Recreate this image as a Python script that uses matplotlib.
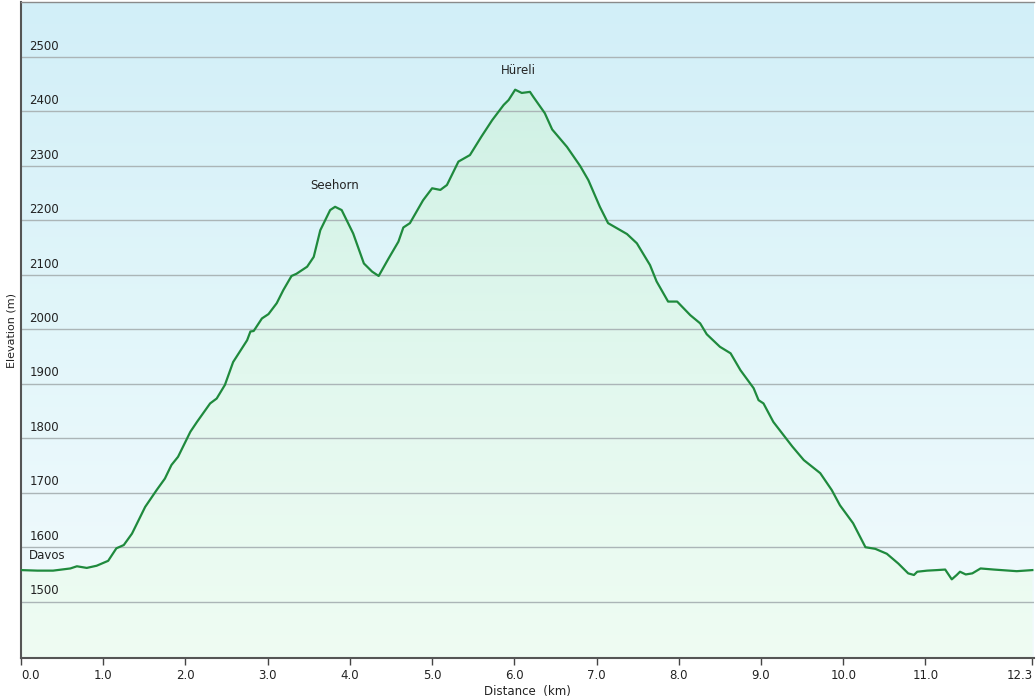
import numpy as np
import matplotlib
matplotlib.use("Agg")
import matplotlib.pyplot as plt
from matplotlib.colors import LinearSegmentedColormap

# elevation profile
distance_km = [0.00, 0.20, 0.39, 0.60, 0.68, 0.80, 0.92, 1.06, 1.16, 1.25,
               1.35, 1.51, 1.65, 1.75, 1.83, 1.91, 2.06, 2.14, 2.30, 2.38,
               2.48, 2.58, 2.75, 2.79, 2.83, 2.93, 3.01, 3.11, 3.19, 3.29,
               3.35, 3.48, 3.56, 3.64, 3.76, 3.82, 3.90, 4.04, 4.17, 4.27,
               4.35, 4.47, 4.59, 4.65, 4.73, 4.89, 5.00, 5.10, 5.18, 5.32,
               5.46, 5.60, 5.73, 5.87, 5.93, 6.01, 6.09, 6.19, 6.23, 6.37,
               6.46, 6.64, 6.80, 6.90, 7.04, 7.14, 7.37, 7.49, 7.65, 7.73,
               7.87, 7.98, 8.14, 8.26, 8.34, 8.50, 8.63, 8.75, 8.91, 8.97,
               9.03, 9.15, 9.38, 9.52, 9.72, 9.86, 9.96, 10.12, 10.27, 10.39,
               10.53, 10.67, 10.79, 10.86, 10.90, 11.02, 11.14, 11.24, 11.32, 11.38,
               11.42, 11.49, 11.57, 11.67, 11.83, 12.11, 12.30]
elevation_m = [1558, 1557, 1557, 1561, 1565, 1562, 1566, 1575, 1598, 1604,
               1625, 1674, 1705, 1726, 1751, 1766, 1812, 1830, 1864, 1873,
               1898, 1940, 1980, 1996, 1997, 2020, 2028, 2048, 2072, 2098,
               2102, 2115, 2133, 2182, 2219, 2225, 2219, 2176, 2121, 2106,
               2098, 2130, 2161, 2187, 2195, 2237, 2259, 2256, 2265, 2308,
               2320, 2354, 2384, 2412, 2421, 2440, 2434, 2436, 2427, 2397,
               2367, 2335, 2300, 2274, 2225, 2195, 2175, 2158, 2118, 2088,
               2051, 2051, 2026, 2011, 1991, 1968, 1956, 1925, 1892, 1870,
               1864, 1830, 1785, 1760, 1736, 1705, 1677, 1644, 1600, 1597,
               1588, 1570, 1552, 1549, 1555, 1557, 1558, 1559, 1541, 1549,
               1555, 1550, 1552, 1561, 1559, 1556, 1558]

place_names = ["Davos", "Seehorn", "Hüreli"]
place_km = [0.10, 3.81, 6.05]
place_elev = [1584, 2265, 2476]

x_ticks = [0, 1, 2, 3, 4, 5, 6, 7, 8, 9, 10, 11, 12.3]
x_tick_labels = ["0.0", "1.0", "2.0", "3.0", "4.0", "5.0", "6.0", "7.0",
                 "8.0", "9.0", "10.0", "11.0", "12.3"]
y_grid = [1500, 1600, 1700, 1800, 1900, 2000, 2100, 2200, 2300, 2400, 2500]

xmin, xmax = 0, 12.32
ymin, ymax = 1396.6, 2601

fig = plt.figure(figsize=(10.36, 7.0), dpi=100)
ax = fig.add_axes([21 / 1036, 1 - 658 / 700, 1013 / 1036, 656 / 700])

# sky gradient
sky = LinearSegmentedColormap.from_list("sky", ["#f3fbfd", "#e2f6fa", "#d2eff8"])
grad = np.linspace(0, 1, 256).reshape(-1, 1)
ax.imshow(grad, cmap=sky, origin="lower", aspect="auto",
          extent=[xmin, xmax, ymin, ymax], zorder=0)

# green gradient below the profile
ground = LinearSegmentedColormap.from_list("ground", ["#effcf3", "#e2f8ee", "#d0f1e5"])
img = ax.imshow(grad, cmap=ground, origin="lower", aspect="auto",
                extent=[xmin, xmax, ymin, max(elevation_m)], zorder=1)
poly = ax.fill_between(distance_km, elevation_m, ymin, color="none", zorder=1)
clip = poly.get_paths()[0]
img.set_clip_path(clip, transform=ax.transData)

for g in y_grid:
    ax.axhline(g, color="#abb5b7", lw=1.0, zorder=2)
    ax.text(0.1, g + 8, str(g), fontsize=8.5, color="#222222",
            ha="left", va="bottom", zorder=4)

ax.plot(distance_km, elevation_m, color="#1f8a3d", lw=1.6, zorder=3)

for name, xk, ye in zip(place_names, place_km, place_elev):
    ha = "left" if name == "Davos" else "center"
    ax.text(xk, ye, name, fontsize=8.5, color="#222222", ha=ha, va="center", zorder=4)

ax.set_xlim(xmin, xmax)
ax.set_ylim(ymin, ymax)
ax.set_xticks(x_ticks)
ax.set_xticklabels(x_tick_labels, fontsize=8.5, color="#222222")
labels = ax.get_xticklabels()
labels[0].set_ha("left")
labels[-1].set_ha("right")
ax.set_yticks([])
ax.tick_params(axis="x", direction="out", length=5, width=1, color="#444444", pad=3)

ax.spines["right"].set_visible(False)
ax.spines["top"].set_color("#8a8a8a")
ax.spines["top"].set_linewidth(1)
ax.spines["left"].set_color("#555555")
ax.spines["left"].set_linewidth(1.5)
ax.spines["bottom"].set_color("#555555")
ax.spines["bottom"].set_linewidth(1.5)

ax.set_xlabel("Distance  (km)", fontsize=8.5, color="#222222", labelpad=2)
fig.text(12 / 1036, 1 - 330 / 700, "Elevation (m)", rotation=90, fontsize=8,
         color="#222222", ha="center", va="center")

fig.savefig("out.png", dpi=100)
